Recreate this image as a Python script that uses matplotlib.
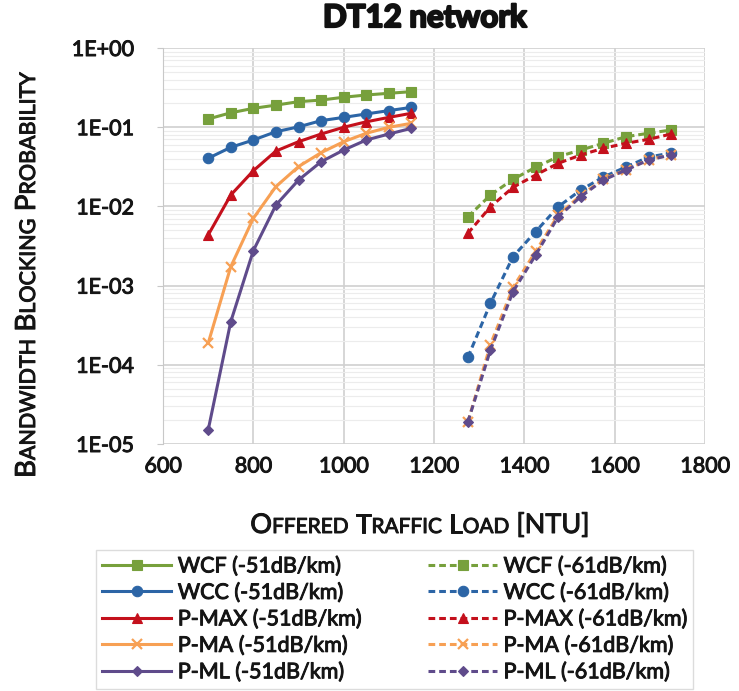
import numpy as np
import matplotlib
matplotlib.use("Agg")
import matplotlib.pyplot as plt
import matplotlib.patheffects as pe
from matplotlib.ticker import FixedLocator, FuncFormatter, LogLocator, NullFormatter

# ---- data -------------------------------------------------------------
load_51 = [700, 750, 800, 850, 900, 950, 1000, 1050, 1100, 1150]
load_61 = [1275, 1325, 1375, 1425, 1475, 1525, 1575, 1625, 1675, 1725]

wcf_51 = [0.127, 0.152, 0.173, 0.190, 0.210, 0.220, 0.239, 0.255, 0.268, 0.281]
wcc_51 = [0.0405, 0.0557, 0.0689, 0.0877, 0.101, 0.121, 0.133, 0.147, 0.162, 0.178]
pmax_51 = [0.00435, 0.0139, 0.0282, 0.050, 0.0656, 0.082, 0.0998, 0.117, 0.133, 0.150]
pma_51 = [0.000187, 0.00173, 0.00708, 0.0178, 0.0318, 0.0477, 0.0656, 0.0838, 0.0998, 0.112]
pml_51 = [1.5e-5, 0.00035, 0.00276, 0.0104, 0.0215, 0.0366, 0.0515, 0.0689, 0.082, 0.0968]

wcf_61 = [0.0074, 0.0139, 0.022, 0.0312, 0.0425, 0.0515, 0.0626, 0.0759, 0.0838, 0.0922]
wcc_61 = [0.000124, 0.000598, 0.00232, 0.0048, 0.0099, 0.0161, 0.0235, 0.0314, 0.042, 0.0472]
pmax_61 = [0.00457, 0.0099, 0.0174, 0.0249, 0.035, 0.0446, 0.0542, 0.0626, 0.0703, 0.082]
pma_61 = [1.9e-5, 0.00018, 0.00095, 0.0027, 0.0078, 0.0138, 0.022, 0.029, 0.039, 0.045]
pml_61 = [1.9e-5, 0.000154, 0.00084, 0.00243, 0.0074, 0.0133, 0.0215, 0.0288, 0.0385, 0.0446]

names = ["WCF", "WCC", "P-MAX", "P-MA", "P-ML"]
series_51 = [wcf_51, wcc_51, pmax_51, pma_51, pml_51]
series_61 = [wcf_61, wcc_61, pmax_61, pma_61, pml_61]
x_ticks = [600, 800, 1000, 1200, 1400, 1600, 1800]
y_ticks = [1e-5, 1e-4, 1e-3, 1e-2, 1e-1, 1e0]

# ---- style ------------------------------------------------------------
colors = ["#77a03c", "#2c65a6", "#c4101c", "#f7a054", "#5f4b8b"]
markers = ["s", "o", "^", "x", "D"]
msizes = [7.5, 7.5, 7.5, 7.5, 5.5]
TXT = "#151515"
HEAVY = [pe.withStroke(linewidth=0.7, foreground=TXT)]
plt.rcParams["font.family"] = ["Lato", "DejaVu Sans"]

W, H = 739, 691
fig = plt.figure(figsize=(W / 100, H / 100), dpi=100)
ax = fig.add_axes([163 / W, 1 - 444 / H, (705 - 163) / W, (444 - 48) / H])

handles = []
for i, name in enumerate(names):
    mk = dict(marker=markers[i], markersize=msizes[i], color=colors[i],
              markeredgewidth=1.6 if markers[i] == "x" else 0.8,
              markeredgecolor=colors[i])
    h1, = ax.plot(load_51, series_51[i], linestyle="-", linewidth=2.2,
                  label=f"{name} (-51dB/km)", **mk)
    h2, = ax.plot(load_61, series_61[i], linestyle=(0, (2.2, 1.3)),
                  linewidth=2.2, label=f"{name} (-61dB/km)", **mk)
    handles.append((h1, h2))

ax.set_yscale("log")
ax.set_ylim(1e-5, 1)
ax.set_xlim(600, 1800)
ax.xaxis.set_major_locator(FixedLocator(x_ticks))
ax.yaxis.set_major_locator(FixedLocator(y_ticks))
ax.yaxis.set_major_formatter(FuncFormatter(lambda v, p: f"1E{int(round(np.log10(v))):+03d}"))
ax.yaxis.set_minor_locator(LogLocator(base=10, subs=np.arange(2, 10)))
ax.yaxis.set_minor_formatter(NullFormatter())

ax.grid(True, which="major", color="#d0d0d0", linewidth=1.2)
ax.grid(True, which="minor", axis="y", color="#ececec", linewidth=0.8)
ax.set_axisbelow(True)
for s in ax.spines.values():
    s.set_visible(False)
ax.spines["left"].set_visible(True)
ax.spines["left"].set_color("#c8c8c8")
ax.tick_params(axis="both", which="both", length=0, labelsize=15.5, colors=TXT, pad=9)
ax.tick_params(axis="y", which="major", length=4, color="#c8c8c8", pad=17)
ax.tick_params(axis="y", which="minor", length=0)
for lbl in ax.get_xticklabels() + ax.get_yticklabels():
    lbl.set_path_effects(HEAVY)

fig.text(425 / W, 1 - 18 / H, "DT12 network", ha="center", va="center",
         fontsize=22.5, fontweight="bold", color="#111111",
         path_effects=[pe.withStroke(linewidth=1.6, foreground="#111111")])

# ---- small-caps axis titles --------------------------------------------
renderer = fig.canvas.get_renderer()


def seg_width(s, size):
    t = fig.text(0, 0, s + "|", fontsize=size)
    w1 = t.get_window_extent(renderer).width
    t.set_text("|")
    w2 = t.get_window_extent(renderer).width
    t.remove()
    return w1 - w2


def small_caps(text, cx, cy, big, small, vertical=False):
    segs = []
    for ch in text:
        size = big if (not ch.isalpha() or ch.isupper()) else small
        if segs and segs[-1][1] == size:
            segs[-1][0] += ch.upper()
        else:
            segs.append([ch.upper(), size])
    widths = [seg_width(s, z) for s, z in segs]
    total = sum(widths)
    pos = -total / 2
    for (s, z), w in zip(segs, widths):
        if vertical:
            t = fig.text(cx, cy + pos, s, fontsize=z, transform=None,
                         rotation=90, rotation_mode="anchor", ha="left",
                         va="baseline", color=TXT)
        else:
            t = fig.text(cx + pos, cy, s, fontsize=z, transform=None,
                         ha="left", va="baseline", color=TXT)
        t.set_path_effects(HEAVY)
        pos += w


small_caps("Offered Traffic Load [NTU]", 420, H - 533, 19.5, 15)
small_caps("Bandwidth Blocking Probability", 35, H - 275, 20, 15.5, vertical=True)

# ---- legend -------------------------------------------------------------
leg_handles = [h[0] for h in handles] + [h[1] for h in handles]
leg = fig.legend(handles=leg_handles, ncol=2, loc="upper left",
                 bbox_to_anchor=(96 / W, 1 - 550 / H), fontsize=15.5,
                 frameon=True, fancybox=False, edgecolor="#d4d4d4",
                 handlelength=3.2, handletextpad=0.3, columnspacing=3.1,
                 labelspacing=0.3, borderpad=0.3, borderaxespad=0, numpoints=1)
leg.get_frame().set_linewidth(1.0)
for t in leg.get_texts():
    t.set_color(TXT)
    t.set_path_effects(HEAVY)

fig.savefig("out.png", dpi=100)
